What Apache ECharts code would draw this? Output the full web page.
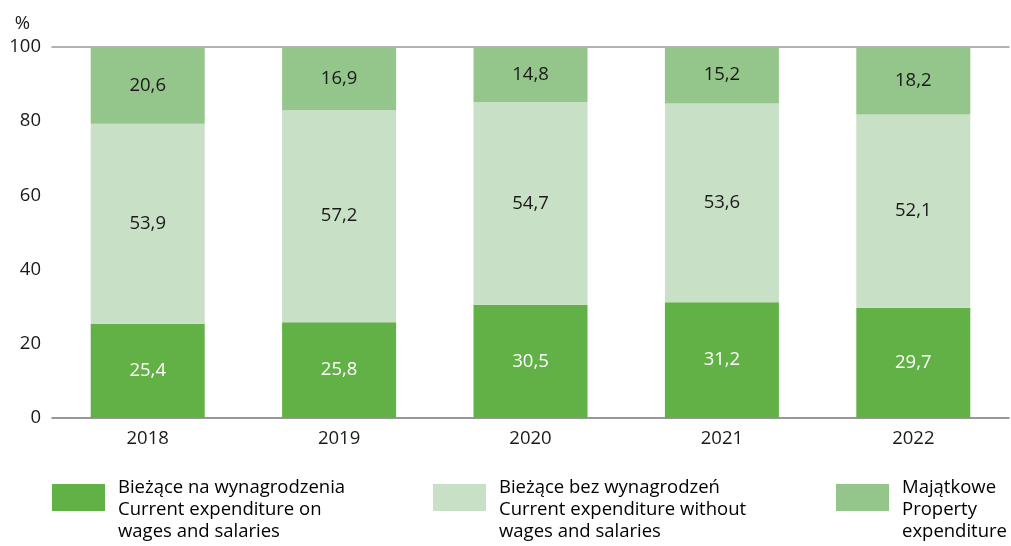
<!DOCTYPE html>
<html>
<head>
<meta charset="utf-8">
<script src="https://cdn.jsdelivr.net/npm/echarts@6/dist/echarts.min.js"></script>
<style>
  html, body { margin: 0; padding: 0; background: #fff; }
  #chart { width: 1011px; height: 546px; }
</style>
</head>
<body>
<div id="chart"></div>
<script>
// dane z wykresu
const years = ['2018', '2019', '2020', '2021', '2022']
const wages = [25.4, 25.8, 30.5, 31.2, 29.7]
const withoutWages = [53.9, 57.2, 54.7, 53.6, 52.1]
const property = [20.6, 16.9, 14.8, 15.2, 18.2]
const yTicks = [0, 20, 40, 60, 80, 100]

const colors = ['#62b146', '#c8e0c5', '#94c58a']
const legendPl = ['Bieżące na wynagrodzenia', 'Bieżące bez wynagrodzeń', 'Majątkowe']
const legendEn = [
  ['Current expenditure on', 'wages and salaries'],
  ['Current expenditure without', 'wages and salaries'],
  ['Property', 'expenditure']
]
const legendX = [52, 433, 836]

const font = '"Open Sans", "Noto Sans", sans-serif'
const fmt = p => p.value.toFixed(1).replace('.', ',')

const chart = echarts.init(document.getElementById('chart'))

// legenda rysowana jako grafika (dwie linie tekstu)
const legendGraphic = []
legendPl.forEach((name, i) => {
  legendGraphic.push({
    type: 'rect',
    left: legendX[i], top: 484,
    shape: { width: 53, height: 27 },
    style: { fill: colors[i] }
  })
  legendGraphic.push({
    type: 'text',
    left: legendX[i] + 66, top: 478,
    style: {
      text: '{pl|' + name + '}\n{en|' + legendEn[i][0] + '}\n{en|' + legendEn[i][1] + '}',
      rich: {
        pl: { fontFamily: font, fontSize: 18.5, color: '#1a1a1a', lineHeight: 22 },
        en: { fontFamily: font, fontSize: 18.5, color: '#7a7a7a', lineHeight: 22 }
      }
    }
  })
})

const makeSeries = (name, data, i, labelColor) => ({
  name: name,
  type: 'bar',
  stack: 'total',
  barWidth: 114,
  data: data,
  itemStyle: { color: colors[i] },
  label: {
    show: true,
    position: 'inside',
    formatter: fmt,
    color: labelColor,
    fontFamily: font,
    fontSize: 18.5
  }
})

chart.setOption({
  animation: false,
  grid: { left: 52, right: 2, top: 47, bottom: 128 },
  xAxis: [
    {
      type: 'category',
      data: years,
      axisLine: { lineStyle: { color: '#777', width: 1.5 } },
      axisTick: { show: false },
      axisLabel: { color: '#1a1a1a', fontFamily: font, fontSize: 18.5, margin: 11 }
    },
    {
      // linia na poziomie 100
      type: 'category',
      data: years,
      position: 'top',
      axisLine: { show: true, lineStyle: { color: '#999', width: 1.5 } },
      axisTick: { show: false },
      axisLabel: { show: false }
    }
  ],
  yAxis: {
    type: 'value',
    min: yTicks[0],
    max: yTicks[yTicks.length - 1],
    interval: 20,
    name: '%',
    nameLocation: 'end',
    nameGap: 14,
    nameTextStyle: { color: '#1a1a1a', fontFamily: font, fontSize: 18.5, align: 'right', padding: [0, 22, 0, 0] },
    axisLine: { show: false },
    axisTick: { show: false },
    splitLine: { show: false },
    axisLabel: { color: '#1a1a1a', fontFamily: font, fontSize: 18.5, margin: 11 }
  },
  series: [
    makeSeries(legendPl[0], wages, 0, '#fff'),
    makeSeries(legendPl[1], withoutWages, 1, '#1a1a1a'),
    makeSeries(legendPl[2], property, 2, '#1a1a1a')
  ],
  graphic: legendGraphic
})
</script>
</body>
</html>
